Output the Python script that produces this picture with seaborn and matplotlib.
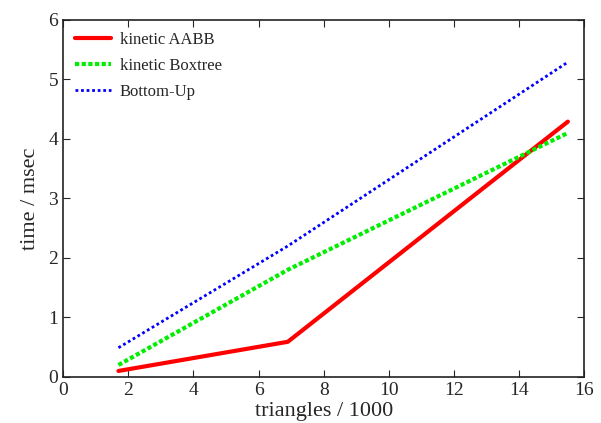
import pandas as pd
import matplotlib
matplotlib.use("Agg")
import matplotlib.pyplot as plt
import seaborn as sns

# =====================================================
# DATA
# =====================================================

triangles = [1.7, 6.9, 15.5]

aabb = [0.1, 0.59, 4.29]
boxtree = [0.2, 1.8, 4.1]
bottom_up = [0.49, 2.2, 5.29]

series_names = ["kinetic AABB", "kinetic Boxtree", "Bottom-Up"]

df = pd.DataFrame({
    "triangles": triangles * 3,
    "time": aabb + boxtree + bottom_up,
    "method": [n for n in series_names for _ in triangles],
})

# =====================================================
# PLOT
# =====================================================

sns.set_style("ticks")
plt.rcParams["font.family"] = ["Liberation Serif", "DejaVu Serif"]

fig = plt.figure(figsize=(6.01, 4.23), dpi=100)
ax = fig.add_axes([0.105, 0.109, 0.867, 0.844])

styles = {
    "kinetic AABB": dict(color="#ff0000", linestyle="-", linewidth=3),
    "kinetic Boxtree": dict(color="#00ee00", linestyle=(0, (1, 0.6)), linewidth=3),
    "Bottom-Up": dict(color="#0000ff", linestyle=(0, (1, 1)), linewidth=2),
}

for name in series_names:
    sns.lineplot(
        data=df[df["method"] == name],
        x="triangles",
        y="time",
        ax=ax,
        label=name,
        **styles[name]
    )

ax.set_xlim(0, 16)
ax.set_ylim(0, 6)
ax.set_xticks(range(0, 17, 2))
ax.set_yticks(range(0, 7))

ax.tick_params(direction="in", top=True, right=True, labelsize=14, length=5)

ax.set_xlabel("triangles / 1000", fontsize=16, labelpad=2)
ax.set_ylabel("time / msec", fontsize=16, labelpad=6)

for s in ax.spines.values():
    s.set_linewidth(1.2)
    s.set_color("#222222")

ax.legend(
    loc="upper left",
    frameon=False,
    fontsize=12,
    handlelength=2.2,
    handletextpad=0.5,
    borderaxespad=0.3,
    borderpad=0.4,
    labelspacing=0.6
)

fig.savefig("out.png", dpi=100)
